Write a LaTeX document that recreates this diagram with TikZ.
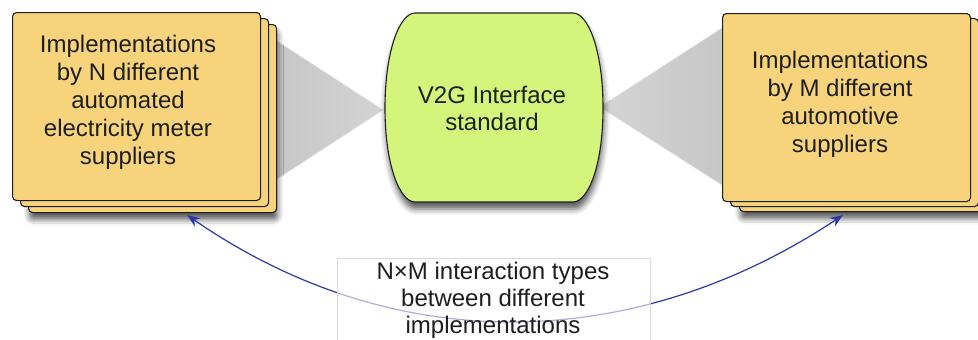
\documentclass[tikz,border=0pt]{standalone}
\usepackage{fontspec}
\setmainfont{Liberation Sans}
\usetikzlibrary{arrows.meta,shadows.blur}

\definecolor{cardfill}{HTML}{F7D47C}
\definecolor{stdfill}{HTML}{D3F57B}
\definecolor{linkblue}{HTML}{2B3AA6}
\definecolor{inkdark}{HTML}{1E1E1E}

\tikzset{
  card/.style={draw=inkdark, line width=1.1pt, fill=cardfill, rounded corners=4pt,
    minimum width=248pt, minimum height=188pt, anchor=north west, inner sep=0pt},
  cardshadow/.style={blur shadow={shadow xshift=1pt, shadow yshift=-7pt,
    shadow blur radius=6pt, shadow opacity=65}},
  label/.style={align=center, font=\fontsize{24}{28}\selectfont, text=inkdark, inner sep=0pt},
  wedgeL/.style={left color=black!22, right color=black!17, draw=black!12, line width=0.6pt},
  wedgeR/.style={left color=black!17, right color=black!22, draw=black!12, line width=0.6pt},
  link/.style={draw=linkblue, line width=1.2pt, {Stealth[length=13pt,width=10pt]}-{Stealth[length=13pt,width=10pt]}},
}

\begin{document}
\begin{tikzpicture}[x=1pt, y=-1pt]
  \useasboundingbox (0,0) rectangle (978,340);
  \clip (0,0) rectangle (978,340);

  % grey projection cones between the standard and the supplier stacks
  \coordinate (apexL) at (383,110);
  \coordinate (apexR) at (600,107);
  \path[wedgeL] (277,41) -- (apexL) -- (277,179) -- cycle;
  \path[wedgeR] (722,28) -- (apexR) -- (722,185) -- cycle;

  % stack of meter supplier implementations
  \node[card, cardshadow] (metC) at (28,24) {};
  \node[card] (metB) at (20,18) {};
  \node[card] (metA) at (12,12) {};
  \node[label] (metT) at (128,102) {Implementations\\by N different\\automated\\electricity meter\\suppliers};

  % stack of automotive supplier implementations
  \node[card, cardshadow] (carC) at (739,23) {};
  \node[card] (carB) at (730,18) {};
  \node[card] (carA) at (722,13) {};
  \node[label] (carT) at (840,104) {Implementations\\by M different\\automotive\\suppliers};

  % barrel-shaped interface standard
  \path[draw=inkdark, line width=1.1pt, fill=stdfill, cardshadow]
    (415,13) -- (573,13) .. controls (588,13) and (603,50) .. (603,108)
    .. controls (603,166) and (588,202) .. (573,202) -- (415,202)
    .. controls (400,202) and (385,166) .. (385,108)
    .. controls (385,50) and (400,13) .. (415,13) -- cycle;
  \node[label, font=\fontsize{24}{27}\selectfont] (v2g) at (492,108) {V2G Interface\\standard};

  % N x M interaction link between the two stacks
  \coordinate (tipL) at (187,215);
  \coordinate (tipR) at (843,215);
  \draw[link] (tipL) .. controls (400,362) and (640,350) .. (tipR);

  % caption box over the link
  \node[draw=black!15, line width=0.6pt, fill=white, fill opacity=0.6,
        minimum width=313pt, minimum height=110pt, anchor=north, inner sep=0pt]
        (capBox) at (493.5,258) {};
  \node[label, font=\fontsize{24}{27}\selectfont] (capT) at (493,300)
        {N×M interaction types\\between different\\implementations};
\end{tikzpicture}
\end{document}
